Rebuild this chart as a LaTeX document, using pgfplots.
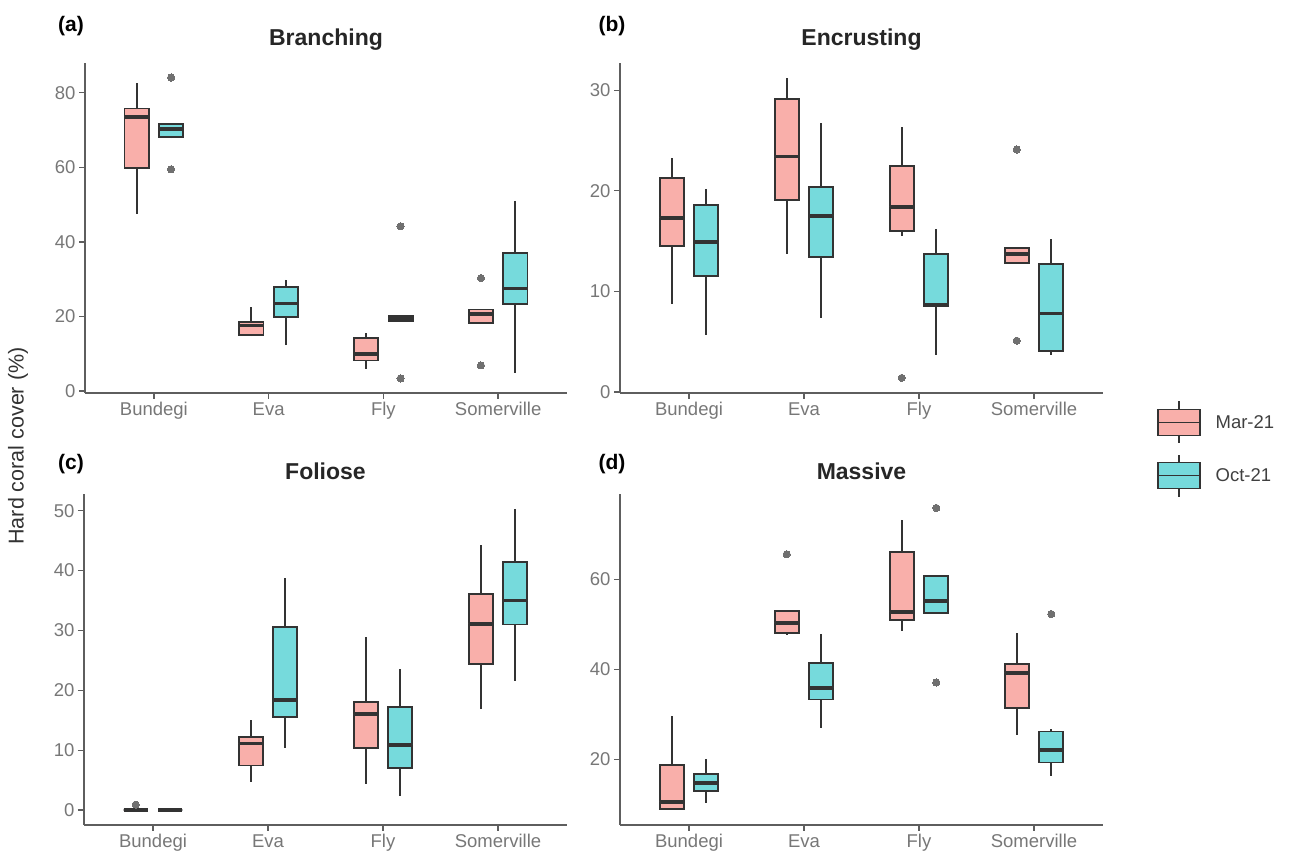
\documentclass[border=0pt]{standalone}
\usepackage{pgfplots}
\pgfplotsset{compat=1.18}
\usepgfplotslibrary{statistics}
\usepackage{fontspec}
\setmainfont{Liberation Sans}
\definecolor{marfill}{HTML}{F9AFAA}
\definecolor{octfill}{HTML}{76DADC}
\definecolor{boxline}{HTML}{333333}
\definecolor{axgrey}{HTML}{5E5E5E}
\definecolor{ticklab}{HTML}{777777}
\definecolor{outl}{HTML}{707070}
\pgfplotsset{
  panel/.style={
    scale only axis, anchor=south west,
    axis lines=left, axis line style={-, draw=axgrey, line width=1.4pt},
    tick style={draw=axgrey, line width=1.3pt}, major tick length=6pt, tick align=outside,
    xmin=0.4, xmax=4.6, xtick={1,2,3,4},
    xticklabels={Bundegi,Eva,Fly,Somerville},
    /pgf/number format/assume math mode=true,
    tick label style={font=\fontsize{18.5}{22}\selectfont, text=ticklab},
    title style={font=\fontsize{23}{27}\selectfont\bfseries, text=black!85, at={(0.5,1)}, anchor=center, yshift=17pt},
    boxplot/every whisker/.style={line width=2pt, draw=boxline},
    boxplot/every median/.style={line width=3.8pt},
  },
  bstyle/.style={draw=boxline, line width=1.8pt, mark=*, mark size=3.6pt, mark options={fill=outl, draw=outl, line width=0pt}, forget plot},
  mar/.style={bstyle, fill=marfill},
  oct/.style={bstyle, fill=octfill},
}
% #1 style, #2 position, #3 lower whisker, #4 lower quartile, #5 median, #6 upper quartile, #7 upper whisker, #8 outliers
\newcommand{\bp}[8]{%
  \addplot[#1, boxplot prepared={draw direction=y, draw position=#2, box extend=0.21, whisker extend=0,
    lower whisker=#3, lower quartile=#4, median=#5, upper quartile=#6, upper whisker=#7}] coordinates {#8};
}
\begin{document}
\begin{tikzpicture}
\useasboundingbox (0,0) rectangle (1290pt,864pt);
% (a) Branching
\begin{axis}[panel, at={(85pt,471pt)}, width=482pt, height=330pt,
  ymin=-0.5, ymax=88, ytick={0,20,40,60,80}, title={Branching}]
\bp{mar}{0.85}{47.5}{59.9}{73.6}{75.8}{82.5}{}
\bp{oct}{1.15}{67.8}{68.1}{70.4}{71.6}{71.8}{(0,84.1) (0,59.5)}
\bp{mar}{1.85}{14.7}{15.0}{17.6}{18.6}{22.5}{}
\bp{oct}{2.15}{12.3}{19.8}{23.5}{27.9}{29.9}{}
\bp{mar}{2.85}{6.0}{8.2}{10.0}{14.2}{15.6}{}
\bp{oct}{3.15}{18.9}{18.9}{19.5}{20.1}{20.1}{(0,44.2) (0,3.4)}
\bp{mar}{3.85}{18.0}{18.3}{20.7}{21.9}{22.0}{(0,30.3) (0,6.9)}
\bp{oct}{4.15}{4.9}{23.4}{27.5}{37.0}{51.1}{}
\end{axis}
% (b) Encrusting
\begin{axis}[panel, at={(620pt,471pt)}, width=483pt, height=330pt,
  ymin=-0.1, ymax=32.7, ytick={0,10,20,30}, title={Encrusting},
  legend style={at={(1.112,-0.17)}, anchor=west, draw=none, fill=none, inner sep=0pt,
    font=\fontsize{18.5}{22}\selectfont, text=black!75, row sep=10pt,
    /tikz/every odd column/.append style={column sep=0pt}},
  legend cell align=left]
\addlegendimage{legend image code/.code={
  \draw[boxline, line width=1.3pt] (21pt,13pt)--(21pt,21pt) (21pt,-13pt)--(21pt,-21pt);
  \draw[fill=marfill, draw=boxline, line width=1.3pt] (0pt,-13pt) rectangle (42pt,13pt);
  \draw[boxline, line width=1.3pt] (0pt,0pt)--(42pt,0pt);}}
\addlegendentry{\hspace{13pt}Mar-21}
\addlegendimage{legend image code/.code={
  \draw[boxline, line width=1.3pt] (21pt,13pt)--(21pt,21pt) (21pt,-13pt)--(21pt,-21pt);
  \draw[fill=octfill, draw=boxline, line width=1.3pt] (0pt,-13pt) rectangle (42pt,13pt);
  \draw[boxline, line width=1.3pt] (0pt,0pt)--(42pt,0pt);}}
\addlegendentry{\hspace{13pt}Oct-21}
\bp{mar}{0.85}{8.7}{14.5}{17.3}{21.3}{23.3}{}
\bp{oct}{1.15}{5.7}{11.5}{14.9}{18.6}{20.2}{}
\bp{mar}{1.85}{13.75}{19.1}{23.4}{29.1}{31.2}{}
\bp{oct}{2.15}{7.4}{13.4}{17.5}{20.4}{26.7}{}
\bp{mar}{2.85}{15.5}{16.0}{18.4}{22.5}{26.3}{(0,1.4)}
\bp{oct}{3.15}{3.7}{8.55}{8.65}{13.75}{16.2}{}
\bp{mar}{3.85}{12.8}{12.8}{13.7}{14.3}{14.3}{(0,24.1) (0,5.1)}
\bp{oct}{4.15}{3.7}{4.05}{7.8}{12.7}{15.2}{}
\end{axis}
% (c) Foliose
\begin{axis}[panel, at={(84pt,39pt)}, width=483pt, height=331pt,
  ymin=-2.5, ymax=52.8, ytick={0,10,20,30,40,50}, title={Foliose}]
\bp{mar}{0.85}{0}{0}{0}{0}{0}{(0,0.9)}
\bp{oct}{1.15}{0}{0}{0}{0}{0}{}
\bp{mar}{1.85}{4.7}{7.45}{11.1}{12.2}{15.0}{}
\bp{oct}{2.15}{10.4}{15.6}{18.4}{30.6}{38.7}{}
\bp{mar}{2.85}{4.4}{10.4}{16.0}{18.0}{28.9}{}
\bp{oct}{3.15}{2.4}{7.0}{10.9}{17.2}{23.5}{}
\bp{mar}{3.85}{16.8}{24.4}{31.1}{36.1}{44.2}{}
\bp{oct}{4.15}{21.6}{31.0}{35.0}{41.5}{50.3}{}
\end{axis}
% (d) Massive
\begin{axis}[panel, at={(620pt,39pt)}, width=483pt, height=331pt,
  ymin=5.4, ymax=79, ytick={20,40,60}, title={Massive}]
\bp{mar}{0.85}{8.9}{8.95}{10.6}{18.8}{29.7}{}
\bp{oct}{1.15}{10.4}{13.0}{14.7}{16.7}{20.1}{}
\bp{mar}{1.85}{47.7}{48.1}{50.4}{52.9}{53.0}{(0,65.6)}
\bp{oct}{2.15}{26.9}{33.3}{35.9}{41.5}{47.9}{}
\bp{mar}{2.85}{48.6}{50.9}{52.8}{66.1}{73.3}{}
\bp{oct}{3.15}{52.6}{52.6}{55.2}{60.7}{60.7}{(0,75.9) (0,37.1)}
\bp{mar}{3.85}{25.4}{31.5}{39.2}{41.2}{48.1}{}
\bp{oct}{4.15}{16.3}{19.3}{22.1}{26.2}{26.7}{(0,52.3)}
\end{axis}
\node[font=\fontsize{21}{25}\selectfont\bfseries] at (71pt,838pt) {(a)};
\node[font=\fontsize{21}{25}\selectfont\bfseries] at (612pt,838pt) {(b)};
\node[font=\fontsize{21}{25}\selectfont\bfseries] at (71pt,400pt) {(c)};
\node[font=\fontsize{21}{25}\selectfont\bfseries] at (612pt,400pt) {(d)};
\node[rotate=90, font=\fontsize{21.5}{25}\selectfont, text=black!80] at (18pt,418pt) {Hard coral cover (\%)};
\end{tikzpicture}
\end{document}
